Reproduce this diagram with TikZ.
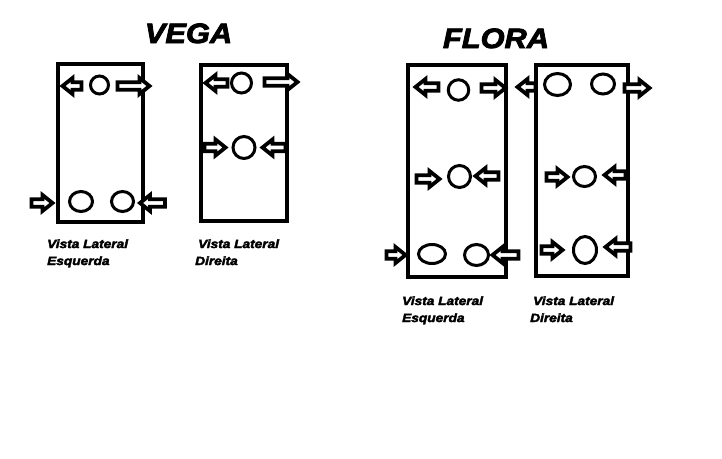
\documentclass[tikz,border=0pt]{standalone}
\usepackage{fontspec}
\usetikzlibrary{shapes.geometric}
\setmainfont{Liberation Sans}
\newfontfamily\blk{Liberation Sans}[BoldItalicFeatures={FakeBold=3,FakeStretch=1.1}]
\newfontfamily\blkl{Liberation Sans}[BoldItalicFeatures={FakeBold=3,FakeStretch=1.14}]
\newcommand\blockarrow[3]{%
  \pgfmathsetmacro\bah{#2-sign(#2-#1)*10}%
  \draw[arrowline] (#1,#3-3.7) -- (\bah,#3-3.7) -- (\bah,#3-8) -- (#2,#3)
    -- (\bah,#3+8) -- (\bah,#3+3.7) -- (#1,#3+3.7) -- cycle;}
\begin{document}
\begin{tikzpicture}[x=1pt,y=-1pt,
  box/.style={draw=black,line width=4pt,rectangle,inner sep=0pt},
  ring/.style={draw=black,line width=3pt,ellipse,inner sep=0pt},
  arrowline/.style={draw=black,fill=white,line width=3.8pt,line join=miter,miter limit=3},
  title/.style={font=\blk\bfseries\itshape\fontsize{28}{28}\selectfont,inner sep=0pt,anchor=base},
  lbl/.style={font=\blkl\bfseries\itshape\fontsize{12}{12}\selectfont,inner sep=0pt,anchor=base west}]
\useasboundingbox[fill=white] (0,0) rectangle (722,458);

% titles
\node[title] (tvega) at (188.5,43) {VEGA};
\node[title] (tflora) at (496,48) {FLORA};

% boxes
\node[box,minimum width=85pt,minimum height=158pt] (vl) at (100.5,143) {};
\node[box,minimum width=86pt,minimum height=156pt] (vr) at (244,143) {};
\node[box,minimum width=98pt,minimum height=212.5pt] (fl) at (456.5,170.75) {};
\node[box,minimum width=92.5pt,minimum height=210.5pt] (fr) at (581.75,170.25) {};

% VEGA left
\node[ring,minimum width=18pt,minimum height=18pt] (vl1) at (99.5,85) {};
\node[ring,minimum width=23pt,minimum height=20pt] (vl2) at (81,201.5) {};
\node[ring,minimum width=22pt,minimum height=20pt] (vl3) at (122.5,201.5) {};
\blockarrow{81.5}{62.5}{86}
\blockarrow{117.5}{149.5}{86}
\blockarrow{31.5}{52.5}{203}
\blockarrow{165}{140}{203}

% VEGA right
\node[ring,minimum width=20pt,minimum height=20pt] (vr1) at (241.5,83) {};
\node[ring,minimum width=22pt,minimum height=22pt] (vr2) at (244,147.5) {};
\blockarrow{227.5}{205.5}{83}
\blockarrow{264.5}{297.5}{82}
\blockarrow{204.5}{225.5}{147.5}
\blockarrow{285.5}{262.5}{147.5}

% FLORA left
\node[ring,minimum width=20.5pt,minimum height=20.5pt] (fl1) at (458.5,90) {};
\node[ring,minimum width=22pt,minimum height=22pt] (fl2) at (459.5,176.5) {};
\node[ring,minimum width=27pt,minimum height=19pt] (fl3) at (432,254) {};
\node[ring,minimum width=24pt,minimum height=21pt] (fl4) at (476.5,255) {};
\blockarrow{438.5}{415.5}{87}
\blockarrow{481.5}{505.5}{88}
\blockarrow{416.5}{439.5}{179}
\blockarrow{498.5}{475.5}{176}
\blockarrow{386.5}{405.5}{255}
\blockarrow{518.5}{492.5}{255}

% FLORA right
\node[ring,minimum width=26pt,minimum height=22pt] (fr1) at (557.5,84.5) {};
\node[ring,minimum width=23pt,minimum height=20pt] (fr2) at (603,84) {};
\node[ring,minimum width=22pt,minimum height=20pt] (fr3) at (584.5,176.5) {};
\node[ring,minimum width=23pt,minimum height=27pt] (fr4) at (585,250) {};
\blockarrow{535.5}{517.5}{87}
\blockarrow{624.5}{649.5}{88}
\blockarrow{546.5}{567.5}{177}
\blockarrow{625.5}{604.5}{175}
\blockarrow{541.5}{562.5}{250}
\blockarrow{630.5}{605.5}{247}

% labels
\node[lbl] (l1a) at (47,248) {Vista Lateral};
\node[lbl] (l1b) at (47,265) {Esquerda};
\node[lbl] (l2a) at (198,248) {Vista Lateral};
\node[lbl] (l2b) at (195,265) {Direita};
\node[lbl] (l3a) at (402,305) {Vista Lateral};
\node[lbl] (l3b) at (402,322) {Esquerda};
\node[lbl] (l4a) at (533,305) {Vista Lateral};
\node[lbl] (l4b) at (530,322) {Direita};
\end{tikzpicture}
\end{document}
